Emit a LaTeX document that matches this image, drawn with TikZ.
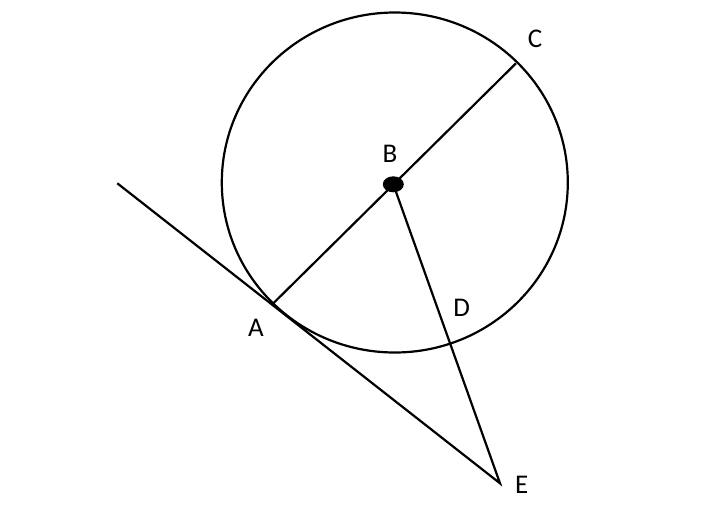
\documentclass[tikz,border=0pt]{standalone}
\usepackage{fontspec}
\setmainfont{Carlito}
\begin{document}
\begin{tikzpicture}[x=1pt,y=-1pt,
  geo/.style={line width=2.2pt,black},
  lbl/.style={font=\fontsize{27}{27}\selectfont,inner sep=0pt}]
\useasboundingbox (0,0) rectangle (717,507);
\coordinate (O) at (394.8,182.5);
\coordinate (B) at (393.3,184.3);
\coordinate (A) at (273.3,303.3);
\coordinate (C) at (516,63.3);
\coordinate (T) at (117.3,183.3);
\coordinate (E) at (500,483.3);
\draw[geo] (O) ellipse [x radius=173, y radius=170];
\draw[geo] (A) -- (C);
\draw[geo] (T) -- (E) -- (B);
\fill (B) ellipse [x radius=10.5, y radius=8];
\node[lbl] (lA) at (256,328) {A};
\node[lbl] (lB) at (390,154) {B};
\node[lbl] (lC) at (535,39.3) {C};
\node[lbl] (lD) at (461.7,308.3) {D};
\node[lbl] (lE) at (521.7,485) {E};
\end{tikzpicture}
\end{document}
